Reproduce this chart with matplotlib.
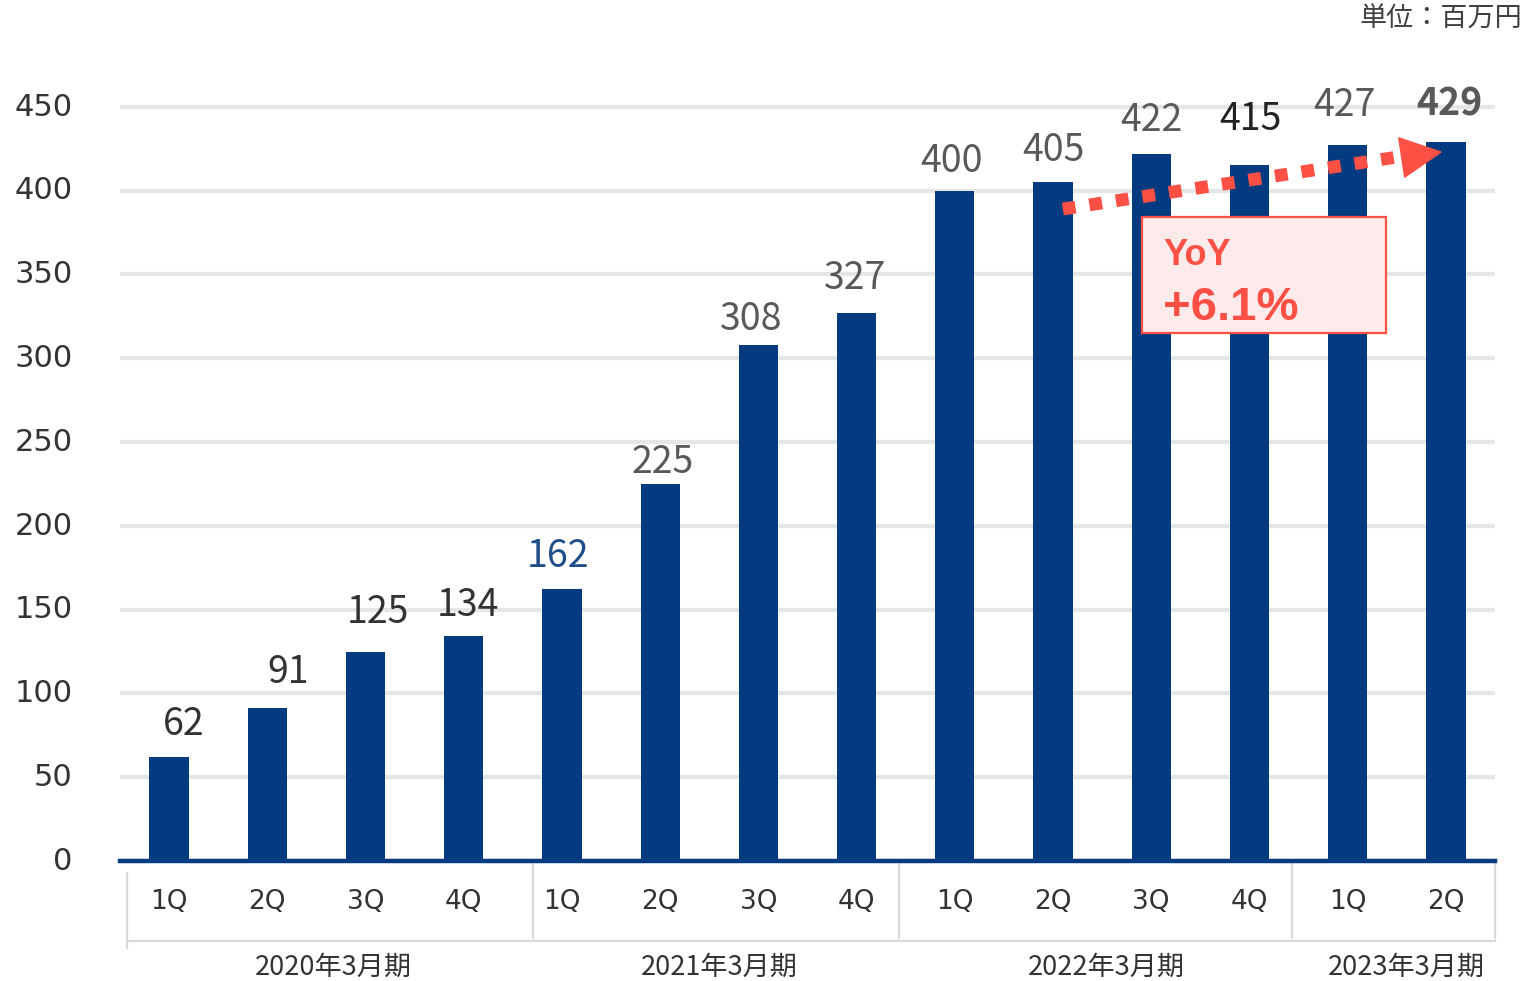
import matplotlib.pyplot as plt
from matplotlib.patches import Rectangle, Polygon
from matplotlib.transforms import blended_transform_factory, ScaledTranslation

plt.rcParams['font.family'] = ['Noto Sans CJK JP', 'DejaVu Sans']

# ---- data (百万円)
quarters = ["1Q", "2Q", "3Q", "4Q", "1Q", "2Q", "3Q", "4Q",
            "1Q", "2Q", "3Q", "4Q", "1Q", "2Q"]
values = [62, 91, 125, 134, 162, 225, 308, 327, 400, 405, 422, 415, 427, 429]
fiscal_years = ["2020年3月期", "2021年3月期", "2022年3月期", "2023年3月期"]
yoy_text = "+6.1%"

# label styles (colour, weight, hand nudges in px as in the source slide)
label_colors = ["#333333"] * 4 + ["#1f4e8c"] + ["#595959"] * 6 + ["#222222", "#595959", "#595959"]
label_weights = ["normal"] * 13 + ["bold"]
label_dx = [15, 21, 12, 4, -4, 2, -7, -1, -3, 0, 0, 1, -3, 3]
label_dy = [22, 25, 29, 20, 22, 11, 15, 24, 19, 21, 23, 35, 29, 27]

NAVY = "#023b80"
RED = "#ff5046"
PT = 0.72  # points per pixel at dpi 100

fig = plt.figure(figsize=(15.29, 9.81), dpi=100)
ax = fig.add_axes([120 / 1529, 1 - 861 / 981, 1375 / 1529, 781 / 981])
x = list(range(len(values)))

ax.bar(x, values, width=0.4, color=NAVY, zorder=2)
ax.set_xlim(-0.5, len(values) - 0.5)
ax.set_ylim(0, 466)

# grid + baseline
ax.set_yticks(range(0, 451, 50))
ax.yaxis.grid(True, color="#e6e6e6", lw=3)
ax.set_axisbelow(True)
ax.axhline(0, color=NAVY, lw=3.2, zorder=3, clip_on=False)
for s in ax.spines.values():
    s.set_visible(False)
ax.tick_params(axis="y", length=0, pad=34, labelsize=22, labelcolor="#333333")
shift = ScaledTranslation(0, 2 / 72, fig.dpi_scale_trans)
for lbl in ax.get_yticklabels():
    lbl.set_fontfamily("DejaVu Sans")
    lbl.set_transform(lbl.get_transform() + shift)
ax.set_xticks([])

# value labels
for i, v in enumerate(values):
    ax.annotate(str(v), (i, v), xytext=(label_dx[i] * PT, label_dy[i] * PT),
                textcoords="offset points", ha="center", va="baseline",
                fontsize=27, color=label_colors[i], fontweight=label_weights[i],
                zorder=4)

# category axis (quarters + fiscal years)
tr = blended_transform_factory(ax.transData, ax.transAxes)
for i, q in enumerate(quarters):
    ax.text(i, -0.0525, q, transform=tr, ha="center", va="center",
            fontsize=19, color="#333333", family="DejaVu Sans")

seps = [-0.43, 3.70, 7.43, 11.43, 13.5]
sep_col = "#d9d9d9"
ax.plot([seps[0], seps[0]], [-0.0154, -0.111], transform=tr, color=sep_col, lw=1.6, clip_on=False)
for s in seps[1:]:
    ax.plot([s, s], [-0.001, -0.0986], transform=tr, color=sep_col, lw=1.6, clip_on=False)
ax.plot([seps[0], seps[-1]], [-0.1024, -0.1024], transform=tr, color=sep_col, lw=1.6, clip_on=False)
label_pos = [1.67, 5.6, 9.54, 12.6]
for xp, fy in zip(label_pos, fiscal_years):
    ax.text(xp, -0.136, fy, transform=tr, ha="center", va="center",
            fontsize=19.5, color="#333333")

# YoY arrow (from 2Q of FY2022 to 2Q of FY2023)
i0, i1 = 9, 13
y0, y1 = values[i0] - 16, values[i1] - 6
ax.plot([i0 + 0.10, i1 - 0.50], [y0, y1 - 3], color=RED, lw=9.2,
        dashes=(1, 1.1), dash_capstyle="butt", zorder=5)
head = Polygon([[i1 - 0.05, y1], [i1 - 0.48, y1 + 8.5], [i1 - 0.42, y1 - 15]],
               closed=True, color=RED, zorder=5)
ax.add_patch(head)

# YoY box
ax.add_patch(Rectangle((9.91, 315), 2.48, 69, facecolor="#fdeaea",
                       edgecolor=RED, lw=1.6, zorder=6))
ax.text(10.12, 355.5, "YoY", ha="left", va="baseline", fontsize=26,
        fontweight="bold", color=RED, family="Liberation Sans", zorder=7)
ax.text(10.12, 323, yoy_text, ha="left", va="baseline", fontsize=34,
        fontweight="bold", color=RED, family="Liberation Sans", zorder=7)

# unit
fig.text(1522 / 1529, 1 - 19 / 981, "単位：百万円", ha="right", va="center",
         fontsize=19.5, color="#404040")

fig.savefig("out.png", dpi=100)
